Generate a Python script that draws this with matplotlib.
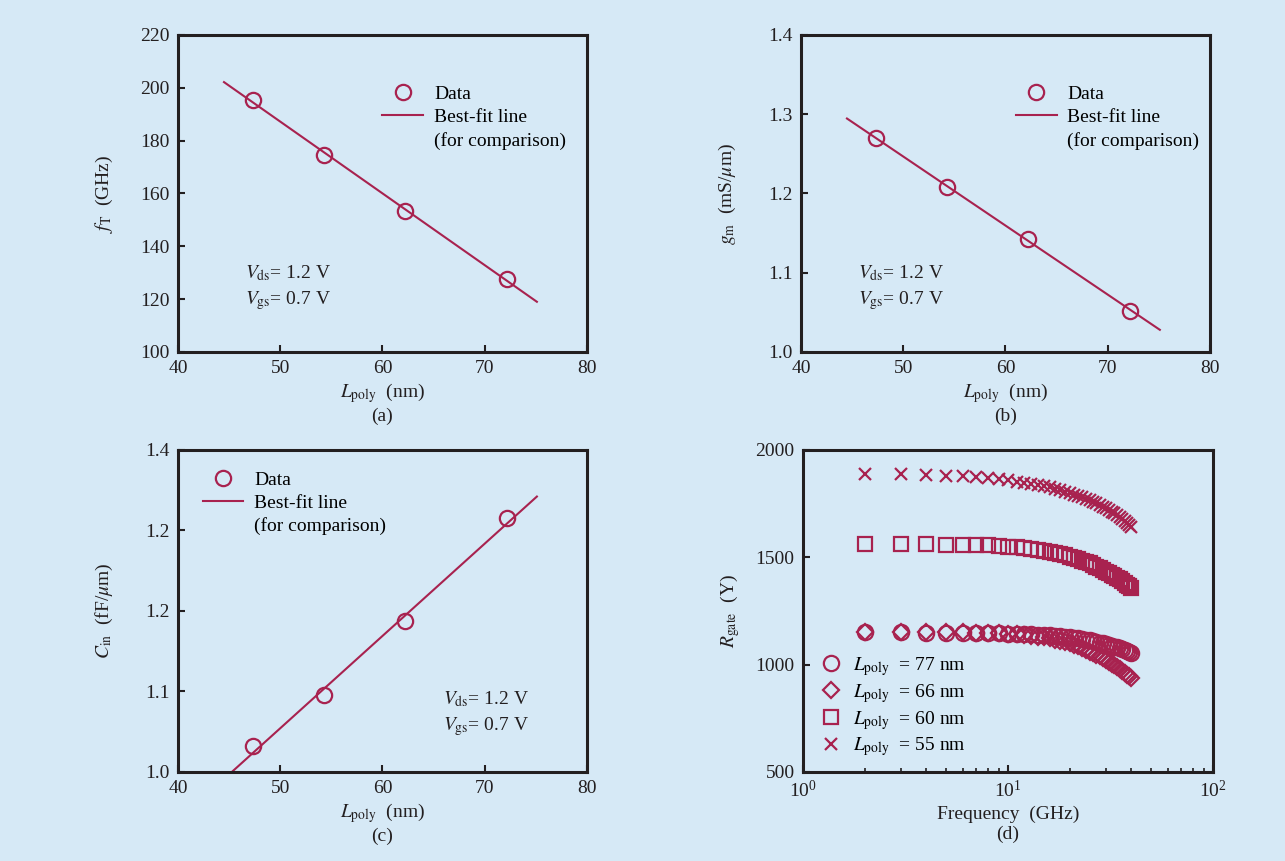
import matplotlib.pyplot as plt
from matplotlib.lines import Line2D
import numpy as np

plt.rcParams['font.family'] = ['Liberation Serif', 'DejaVu Serif']
plt.rcParams['mathtext.fontset'] = 'stix'

BG = '#d6e9f6'
RED = '#a8224f'
INK = '#231f20'

# panels (a)-(c): measured points vs gate length
l_poly = [47.3, 54.3, 62.2, 72.2]
f_t = [195.5, 174.5, 153.5, 127.5]
g_m = [1.270, 1.208, 1.143, 1.052]
c_in = [1.032, 1.095, 1.188, 1.315]
fit_range = [44.5, 75.1]

# panel (d): gate resistance vs frequency
freq = [2, 3, 4, 5, 6, 7, 8, 9, 10, 11, 12, 13, 14, 15, 16, 17, 18, 19, 20, 21,
        22, 23, 24, 25, 26, 27, 28, 29, 30, 31, 32, 33, 34, 35, 36, 37, 38, 39, 40]
r_77 = [1150, 1150, 1149, 1149, 1148, 1148, 1147, 1146, 1145, 1144, 1143, 1141, 1140,
        1138, 1136, 1134, 1132, 1130, 1128, 1125, 1122, 1119, 1116, 1113, 1110, 1106,
        1103, 1099, 1095, 1092, 1088, 1084, 1080, 1076, 1072, 1067, 1063, 1058, 1053]
r_66 = [1152, 1152, 1151, 1151, 1150, 1149, 1148, 1147, 1145, 1142, 1139, 1135, 1131,
        1127, 1122, 1117, 1112, 1106, 1100, 1093, 1085, 1077, 1069, 1061, 1053, 1045,
        1038, 1030, 1022, 1013, 1005, 996, 988, 979, 971, 962, 954, 945, 937]
r_60 = [1562, 1561, 1560, 1559, 1558, 1556, 1555, 1553, 1550, 1547, 1543, 1539, 1535,
        1531, 1526, 1520, 1515, 1509, 1503, 1497, 1491, 1485, 1478, 1472, 1464, 1456,
        1449, 1441, 1433, 1426, 1419, 1412, 1405, 1398, 1390, 1382, 1373, 1365, 1356]
r_55 = [1888, 1886, 1884, 1881, 1878, 1874, 1869, 1864, 1858, 1853, 1848, 1843, 1838,
        1832, 1826, 1819, 1812, 1805, 1798, 1792, 1786, 1780, 1773, 1767, 1759, 1751,
        1743, 1736, 1728, 1720, 1712, 1705, 1697, 1689, 1680, 1671, 1662, 1652, 1643]

bias_text = '$V_{\\rm ds}$= 1.2 V\n$V_{\\rm gs}$= 0.7 V'


def style(ax):
    ax.set_facecolor(BG)
    for s in ax.spines.values():
        s.set_linewidth(2.2)
        s.set_color(INK)
    ax.tick_params(which='both', direction='in', top=False, right=False,
                   colors=INK, labelsize=14, pad=6)
    ax.tick_params(which='major', length=5, width=1.5)
    ax.tick_params(which='minor', length=3, width=1.2)


def fit_panel(ax, y, ylim, yticks, ylabel, tag, leg_anchor, txt_pos):
    style(ax)
    pts, = ax.plot(l_poly, y, 'o', ls='none', mfc='none', mec=RED, ms=11, mew=1.6,
                   label='Data')
    k = np.polyfit(l_poly, y, 1)
    line, = ax.plot(fit_range, np.polyval(k, fit_range), '-', color=RED, lw=1.5,
                    label='Best-fit line')
    blank = Line2D([], [], ls='none', label='(for comparison)')
    ax.legend(handles=[pts, line, blank], loc='upper left', bbox_to_anchor=leg_anchor,
              frameon=False, fontsize=14, handlelength=2.1, handletextpad=0.55,
              labelspacing=0.29, borderpad=0, borderaxespad=0)
    ax.set_xlim(40, 80)
    ax.set_xticks([40, 50, 60, 70, 80])
    ax.set_ylim(*ylim)
    ax.set_yticks(yticks)
    ax.set_xlabel('$L_{\\rm poly}$  (nm)\n' + tag, fontsize=14, color=INK,
                  linespacing=1.2, labelpad=3)
    ax.set_ylabel(ylabel, fontsize=14, color=INK)
    ax.yaxis.set_label_coords(-63 / 409, 0.5)
    ax.text(txt_pos[0], txt_pos[1], bias_text, transform=ax.transAxes, fontsize=14,
            color=INK, va='top', ha='left', linespacing=1.4)


fig = plt.figure(figsize=(12.85, 8.61), dpi=100, facecolor=BG)

ax_a = fig.add_axes([0.1385, 0.5912, 0.3183, 0.3682])
fit_panel(ax_a, f_t, (100, 220), [100, 120, 140, 160, 180, 200, 220],
          '$f_{\\rm T}$  (GHz)', '(a)', (0.50, 0.841), (0.165, 0.279))

ax_b = fig.add_axes([0.6233, 0.5912, 0.3183, 0.3682])
fit_panel(ax_b, g_m, (1.0, 1.4), [1.0, 1.1, 1.2, 1.3, 1.4],
          '$g_{\\rm m}$  (mS/$\\mu$m)', '(b)', (0.525, 0.841), (0.14, 0.279))

ax_c = fig.add_axes([0.1385, 0.1034, 0.3183, 0.3740])
fit_panel(ax_c, c_in, (1.0, 1.4), [1.0, 1.1, 1.2, 1.3, 1.4],
          '$C_{\\rm in}$  (fF/$\\mu$m)', '(c)', (0.06, 0.935), (0.647, 0.256))
ax_c.set_yticklabels(['1.0', '1.1', '1.2', '1.2', '1.4'])

ax_d = fig.add_axes([0.6249, 0.1034, 0.3191, 0.3740])
style(ax_d)
ax_d.set_xscale('log')
ax_d.plot(freq, r_77, 'o', ls='none', mfc='none', mec=RED, ms=11, mew=1.6,
          label='$L_{\\rm poly}$  = 77 nm')
ax_d.plot(freq, r_66, 'D', ls='none', mfc='none', mec=RED, ms=8, mew=1.6,
          label='$L_{\\rm poly}$  = 66 nm')
ax_d.plot(freq, r_60, 's', ls='none', mfc='none', mec=RED, ms=10, mew=1.6,
          label='$L_{\\rm poly}$  = 60 nm')
ax_d.plot(freq, r_55, 'x', ls='none', color=RED, ms=8, mew=1.6,
          label='$L_{\\rm poly}$  = 55 nm')
ax_d.set_xlim(1, 100)
ax_d.set_ylim(500, 2000)
ax_d.set_yticks([500, 1000, 1500, 2000])
ax_d.set_xlabel('Frequency  (GHz)\n(d)', fontsize=14, color=INK, linespacing=1.2,
                labelpad=3)
ax_d.set_ylabel('$R_{\\rm gate}$  (Y)', fontsize=14, color=INK, labelpad=10)
ax_d.legend(loc='upper left', bbox_to_anchor=(0.045, 0.363), frameon=False,
            fontsize=14, handlelength=1.0, handletextpad=0.6, labelspacing=0.2,
            borderpad=0, borderaxespad=0)

fig.savefig('out.png', dpi=100, facecolor=BG)
